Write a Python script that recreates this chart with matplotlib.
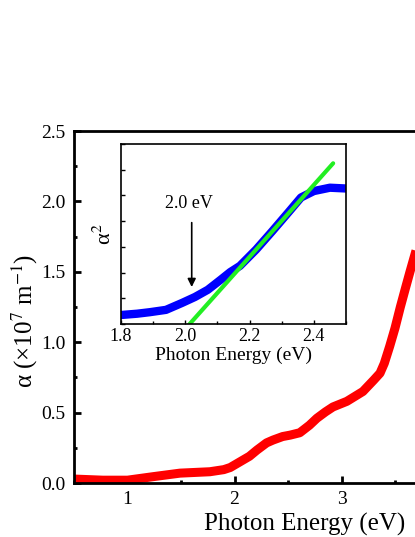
import numpy as np
import matplotlib
matplotlib.use('Agg')
import matplotlib.pyplot as plt
from matplotlib.ticker import MultipleLocator

plt.rcParams['font.family'] = ['Liberation Serif', 'DejaVu Serif']
plt.rcParams['mathtext.fontset'] = 'stix'

# main curve: absorption coefficient (x1e7 m^-1) vs photon energy (eV)
main_e = [0.50, 0.77, 1.00, 1.24, 1.49, 1.77, 1.90, 1.96, 2.05, 2.14, 2.21, 2.30, 2.36,
          2.45, 2.52, 2.61, 2.70, 2.77, 2.85, 2.92, 3.05, 3.20, 3.30, 3.36, 3.40,
          3.45, 3.50, 3.55, 3.60, 3.64, 3.70]
main_a = [0.028, 0.020, 0.020, 0.045, 0.070, 0.080, 0.095, 0.110, 0.150, 0.190, 0.234, 0.285, 0.305,
          0.330, 0.340, 0.357, 0.410, 0.460, 0.505, 0.540, 0.580, 0.650, 0.730, 0.780, 0.850,
          0.970, 1.100, 1.250, 1.390, 1.500, 1.660]

# inset: alpha^2 (arb. units) vs photon energy
inset_e = [1.80, 1.85, 1.89, 1.94, 1.99, 2.03, 2.07, 2.11, 2.14, 2.17, 2.22, 2.27, 2.32,
           2.36, 2.40, 2.45, 2.50]
inset_a2 = [0.35, 0.40, 0.46, 0.55, 0.82, 1.05, 1.33, 1.72, 2.02, 2.26, 2.89, 3.60, 4.33,
            4.92, 5.17, 5.30, 5.27]

# linear fit (Tauc extrapolation)
fit_e = [2.01, 2.46]
fit_a2 = [-0.05, 6.25]
gap = 2.0

fig = plt.figure(figsize=(4.15, 5.37), dpi=100)

# main axes runs past the right edge of the figure (cropped like the original)
ax = fig.add_axes([74/415, 54/537, 363.8/415, 352/537])
ax.plot(main_e, main_a, color='red', lw=6.5, solid_joinstyle='round', solid_capstyle='butt')
ax.set_xlim(0.5, 3.9)
ax.set_ylim(0, 2.5)
ax.xaxis.set_major_locator(MultipleLocator(1))
ax.xaxis.set_minor_locator(MultipleLocator(0.5))
ax.yaxis.set_major_locator(MultipleLocator(0.5))
ax.yaxis.set_minor_locator(MultipleLocator(0.25))
ax.tick_params(which='both', direction='in', top=False, right=False, labelsize=14, width=2)
ax.tick_params(which='major', length=5, pad=6)
ax.tick_params(which='minor', length=2.5)
for s in ax.spines.values():
    s.set_linewidth(2)
ax.set_xlabel('Photon Energy (eV)', fontsize=18)
ax.xaxis.set_label_coords(231/363.8, -0.085)
ax.set_ylabel('α (×10$^{7}$ m$^{-1}$)', fontsize=18, va='center')
ax.yaxis.set_label_coords(-49/363.8, 0.46)

ins = fig.add_axes([121/415, 213/537, 225/415, 180/537])
ins.plot(inset_e, inset_a2, color='blue', lw=6, solid_joinstyle='round')
ins.plot(fit_e, fit_a2, color='#22ee22', lw=3, solid_capstyle='round')
ins.set_xlim(1.8, 2.5)
ins.set_ylim(0, 7)
ins.xaxis.set_major_locator(MultipleLocator(0.2))
ins.xaxis.set_minor_locator(MultipleLocator(0.1))
ins.yaxis.set_major_locator(MultipleLocator(1))
ins.tick_params(which='both', direction='in', top=False, right=False, labelsize=13, width=1, pad=3)
ins.tick_params(which='major', length=3)
ins.tick_params(which='minor', length=2)
ins.tick_params(axis='y', labelleft=False)
for s in ins.spines.values():
    s.set_linewidth(1.2)
ins.set_xlabel('Photon Energy (eV)', fontsize=14, labelpad=1)
ins.set_ylabel('α$^{2}$', fontsize=16, labelpad=4)
ins.annotate('', xy=(2.02, 1.33), xytext=(2.02, 4.05),
             arrowprops=dict(arrowstyle='-|>', color='black', lw=1.2, mutation_scale=12))
ins.text(2.01, 4.7, '%.1f eV' % gap, fontsize=13, ha='center', va='center')

fig.savefig('out.png', dpi=100)
